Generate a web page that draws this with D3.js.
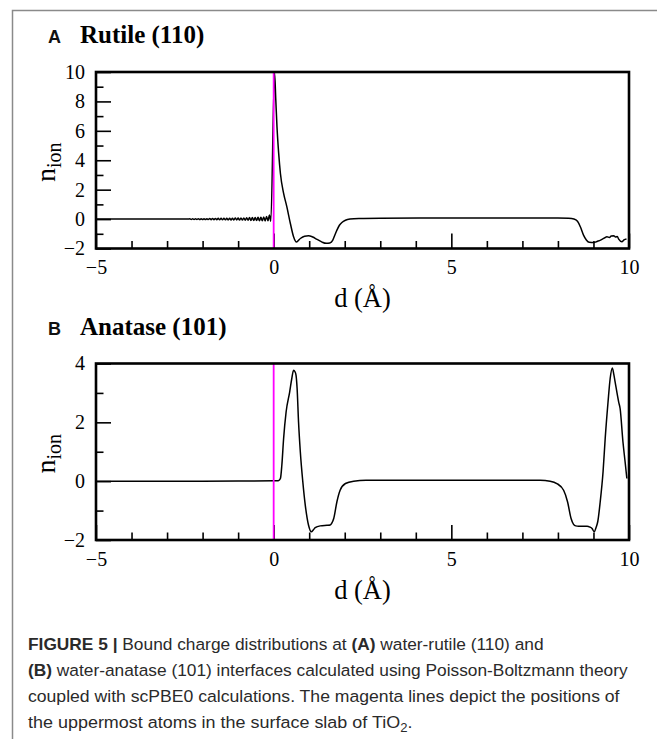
<!DOCTYPE html>
<html>
<head>
<meta charset="utf-8">
<script src="https://cdn.jsdelivr.net/npm/d3@7"></script>
<style>
  html, body { margin: 0; padding: 0; background: #fff; }
  svg { display: block; }
  text { white-space: pre; }
</style>
</head>
<body>
<script>
// ---------- axis data ----------
const xDomain = [-5, 10];
const xMajorTicks = [-5, 0, 5, 10];
const xMinorTicks = [-4, -3, -2, -1, 1, 2, 3, 4, 6, 7, 8, 9];
const xTickLabels = ["\u22125", "0", "5", "10"];

const rutileYDomain = [-2, 10];
const rutileYMajor = [-2, 0, 2, 4, 6, 8, 10];
const rutileYMinor = [-1, 1, 3, 5, 7, 9];
const rutileYLabels = ["\u22122", "0", "2", "4", "6", "8", "10"];

const anataseYDomain = [-2, 4];
const anataseYMajor = [-2, 0, 2, 4];
const anataseYMinor = [-1, 1, 3];
const anataseYLabels = ["\u22122", "0", "2", "4"];

// position of the uppermost surface atoms (magenta marker)
const surfaceAtomD = 0;

// ---------- bound charge n_ion(d) ----------
const rutile = [
  [-5.00, 0.00], [-3.00, 0.00], [-2.40, 0.00],
  [-2.36, 0.02], [-2.32, -0.02], [-2.28, 0.02], [-2.24, -0.02], [-2.20, 0.02],
  [-2.16, -0.02], [-2.12, 0.03], [-2.08, -0.03], [-2.04, 0.03], [-2.00, -0.03],
  [-1.96, 0.03], [-1.92, -0.03], [-1.88, 0.03], [-1.84, -0.03], [-1.80, 0.04],
  [-1.76, -0.04], [-1.72, 0.04], [-1.68, -0.04], [-1.64, 0.04], [-1.60, -0.04],
  [-1.56, 0.05], [-1.52, -0.05], [-1.48, 0.05], [-1.44, -0.05], [-1.40, 0.05],
  [-1.36, -0.05], [-1.32, 0.06], [-1.28, -0.05], [-1.24, 0.06], [-1.20, -0.06],
  [-1.16, 0.06], [-1.12, -0.06], [-1.08, 0.07], [-1.04, -0.06], [-1.00, 0.07],
  [-0.96, -0.07], [-0.92, 0.08], [-0.88, -0.07], [-0.84, 0.08], [-0.80, -0.08],
  [-0.76, 0.09], [-0.72, -0.08], [-0.68, 0.10], [-0.64, -0.09], [-0.60, 0.10],
  [-0.56, -0.10], [-0.52, 0.11], [-0.48, -0.10], [-0.44, 0.12], [-0.40, -0.11],
  [-0.36, 0.13], [-0.32, -0.12], [-0.28, 0.15], [-0.24, -0.13], [-0.20, 0.18],
  [-0.16, -0.12], [-0.12, 0.28], [-0.08, -0.15],
  [0.025, 9.95], [0.06, 8.10], [0.093, 6.30], [0.14, 4.50], [0.19, 3.10],
  [0.28, 1.75], [0.37, 0.85], [0.47, -0.30], [0.56, -1.20], [0.64, -1.56],
  [0.75, -1.32], [0.87, -1.16], [0.98, -1.13], [1.10, -1.22], [1.22, -1.38],
  [1.35, -1.55], [1.48, -1.65], [1.58, -1.62], [1.66, -1.45], [1.72, -1.10],
  [1.78, -0.75], [1.85, -0.42], [1.92, -0.23], [2.02, -0.08], [2.15, 0.00],
  [2.40, 0.04], [3.00, 0.06], [5.00, 0.07], [7.00, 0.07], [8.00, 0.07],
  [8.30, 0.05], [8.45, 0.00], [8.55, -0.15], [8.63, -0.52], [8.72, -1.09],
  [8.80, -1.42], [8.88, -1.58], [9.01, -1.60], [9.10, -1.52], [9.20, -1.43],
  [9.30, -1.30], [9.38, -1.20], [9.45, -1.25], [9.50, -1.15], [9.57, -1.13],
  [9.62, -1.22], [9.67, -1.18], [9.71, -1.36], [9.80, -1.54], [9.86, -1.42],
  [9.93, -1.36]
];

const anatase = [
  [-5.00, 0.00], [-2.00, 0.00], [0.00, 0.01], [0.10, 0.01], [0.14, 0.02],
  [0.19, 0.09], [0.23, 0.54], [0.28, 1.45], [0.35, 2.35], [0.45, 3.03],
  [0.51, 3.49], [0.56, 3.77], [0.60, 3.72], [0.63, 3.60], [0.66, 3.15],
  [0.70, 2.01], [0.75, 1.00], [0.82, -0.02], [0.89, -0.82], [0.98, -1.49],
  [1.06, -1.72], [1.12, -1.65], [1.17, -1.58], [1.31, -1.52], [1.50, -1.50],
  [1.59, -1.49], [1.64, -1.42], [1.69, -1.27], [1.78, -0.70], [1.87, -0.31],
  [2.02, -0.08], [2.25, 0.00], [2.60, 0.03], [5.00, 0.03], [7.50, 0.03],
  [7.78, 0.00], [7.97, -0.08], [8.16, -0.31], [8.27, -0.70], [8.37, -1.27],
  [8.44, -1.47], [8.50, -1.52], [8.58, -1.53], [8.82, -1.53], [8.90, -1.56],
  [8.96, -1.61], [9.02, -1.72], [9.08, -1.55], [9.12, -1.38], [9.19, -0.70],
  [9.27, 0.32], [9.33, 1.45], [9.41, 2.69], [9.47, 3.49], [9.53, 3.85],
  [9.57, 3.65], [9.61, 3.37], [9.71, 2.69], [9.75, 2.47], [9.83, 1.33],
  [9.89, 0.66], [9.94, 0.09]
];

// ---------- caption ----------
const captionLines = [
  [["FIGURE 5 |", true], [" Bound charge distributions at ", false], ["(A)", true], [" water-rutile (110) and", false]],
  [["(B)", true], [" water-anatase (101) interfaces calculated using Poisson-Boltzmann theory", false]],
  [["coupled with scPBE0 calculations. The magenta lines depict the positions of", false]],
  [["the uppermost atoms in the surface slab of TiO", false], ["2", false, "sub"], [".", false, "after"]]
];
// per-line horizontal stretch relative to the common scale
const captionStretch = [1.0, 1.0, 1.017, 1.037];

// ---------- layout ----------
const W = 657, H = 739;
const plotLeft = 96, plotRight = 629;
const panels = [
  { letter: "A", title: "Rutile (110)", top: 72, bottom: 248.5,
    yDomain: rutileYDomain, yMajor: rutileYMajor, yMinor: rutileYMinor,
    yLabels: rutileYLabels, data: rutile },
  { letter: "B", title: "Anatase (101)", top: 363.5, bottom: 540,
    yDomain: anataseYDomain, yMajor: anataseYMajor, yMinor: anataseYMinor,
    yLabels: anataseYLabels, data: anatase }
];

const serif = "'Liberation Serif', 'Times New Roman', serif";
const sans = "'Liberation Sans', Arial, Helvetica, sans-serif";
const tickFont = 20;

const svg = d3.select("body").append("svg")
  .attr("width", W).attr("height", H)
  .attr("viewBox", `0 0 ${W} ${H}`);

svg.append("rect").attr("width", W).attr("height", H).attr("fill", "#fff");

// figure box (top and left rule)
svg.append("path")
  .attr("d", `M12.5,${H} L12.5,10.5 L${W},10.5`)
  .attr("fill", "none").attr("stroke", "#8a8a8a").attr("stroke-width", 1.5);

const x = d3.scaleLinear().domain(xDomain).range([plotLeft, plotRight]);

panels.forEach(p => {
  const y = d3.scaleLinear().domain(p.yDomain).range([p.bottom, p.top]);
  const g = svg.append("g");

  // panel heading
  g.append("text")
    .attr("x", 48).attr("y", p.top - 29)
    .attr("font-family", sans).attr("font-weight", "bold").attr("font-size", 18)
    .attr("fill", "#111").text(p.letter);
  g.append("text")
    .attr("x", 80).attr("y", p.top - 29)
    .attr("font-family", serif).attr("font-weight", "bold").attr("font-size", 25)
    .attr("fill", "#000").text(p.title);

  // axes: major ticks carry labels, minor ticks are bare; all ticks point inward
  const xMajor = d3.axisBottom(x).tickValues(xMajorTicks)
    .tickFormat((d, i) => xTickLabels[i]).tickSize(-15).tickPadding(11.3);
  const xMinor = d3.axisBottom(x).tickValues(xMinorTicks)
    .tickFormat("").tickSize(-7.5);
  const yMajorAxis = d3.axisLeft(y).tickValues(p.yMajor)
    .tickFormat((d, i) => p.yLabels[i]).tickSize(-15).tickPadding(11);
  const yMinorAxis = d3.axisLeft(y).tickValues(p.yMinor)
    .tickFormat("").tickSize(-7.5);

  [xMajor, xMinor].forEach(ax => {
    g.append("g").attr("transform", `translate(0,${p.bottom})`).call(ax);
  });
  [yMajorAxis, yMinorAxis].forEach(ax => {
    g.append("g").attr("transform", `translate(${plotLeft},0)`).call(ax);
  });
  g.selectAll(".domain").remove();
  g.selectAll(".tick line").attr("stroke", "#000").attr("stroke-width", 1.6);
  g.selectAll(".tick text")
    .attr("font-family", serif).attr("font-size", tickFont).attr("fill", "#000");

  // curve
  const line = d3.line()
    .x(d => x(d[0])).y(d => y(d[1]))
    .curve(d3.curveMonotoneX);
  g.append("path").datum(p.data)
    .attr("d", line)
    .attr("fill", "none").attr("stroke", "#000")
    .attr("stroke-width", 1.5).attr("stroke-linejoin", "round");

  // surface atom marker
  g.append("line")
    .attr("x1", x(surfaceAtomD)).attr("x2", x(surfaceAtomD))
    .attr("y1", y(p.yDomain[0])).attr("y2", y(p.yDomain[1]))
    .attr("stroke", "#ff00ff").attr("stroke-width", 1.8);

  // frame
  g.append("rect")
    .attr("x", plotLeft).attr("y", p.top)
    .attr("width", plotRight - plotLeft).attr("height", p.bottom - p.top)
    .attr("fill", "none").attr("stroke", "#000").attr("stroke-width", 2.6);

  // axis titles
  g.append("text")
    .attr("x", (plotLeft + plotRight) / 2).attr("y", p.bottom + 58.5)
    .attr("text-anchor", "middle")
    .attr("font-family", serif).attr("font-size", 26.5).attr("fill", "#000")
    .text("d (\u00C5)");

  const yt = g.append("text")
    .attr("transform", `translate(55,${(p.top + p.bottom) / 2 + 2}) rotate(-90)`)
    .attr("text-anchor", "middle")
    .attr("font-family", serif).attr("font-size", 28).attr("fill", "#000");
  yt.append("tspan").text("n");
  yt.append("tspan").attr("font-size", 20).attr("dy", 6).text("ion");
});

// caption: common horizontal scale set by the widest line
const capLeft = 28, capWidestEnd = 628;
const capBase = [650, 676, 702, 728];
const capTexts = captionLines.map(parts => {
  const t = svg.append("text")
    .attr("font-family", sans).attr("font-size", 16.5).attr("fill", "#2a2a2a");
  parts.forEach(([s, bold, kind]) => {
    const ts = t.append("tspan").text(s).attr("font-weight", bold ? "bold" : "normal");
    if (kind === "sub") ts.attr("font-size", 12).attr("dy", 4);
    if (kind === "after") ts.attr("dy", -4);
  });
  return t;
});
const widest = d3.max(capTexts, t => t.node().getComputedTextLength());
const sx = (capWidestEnd - capLeft) / widest;
capTexts.forEach((t, i) => {
  t.attr("transform", `translate(${capLeft},${capBase[i]}) scale(${sx * captionStretch[i]},1)`);
});
</script>
</body>
</html>
